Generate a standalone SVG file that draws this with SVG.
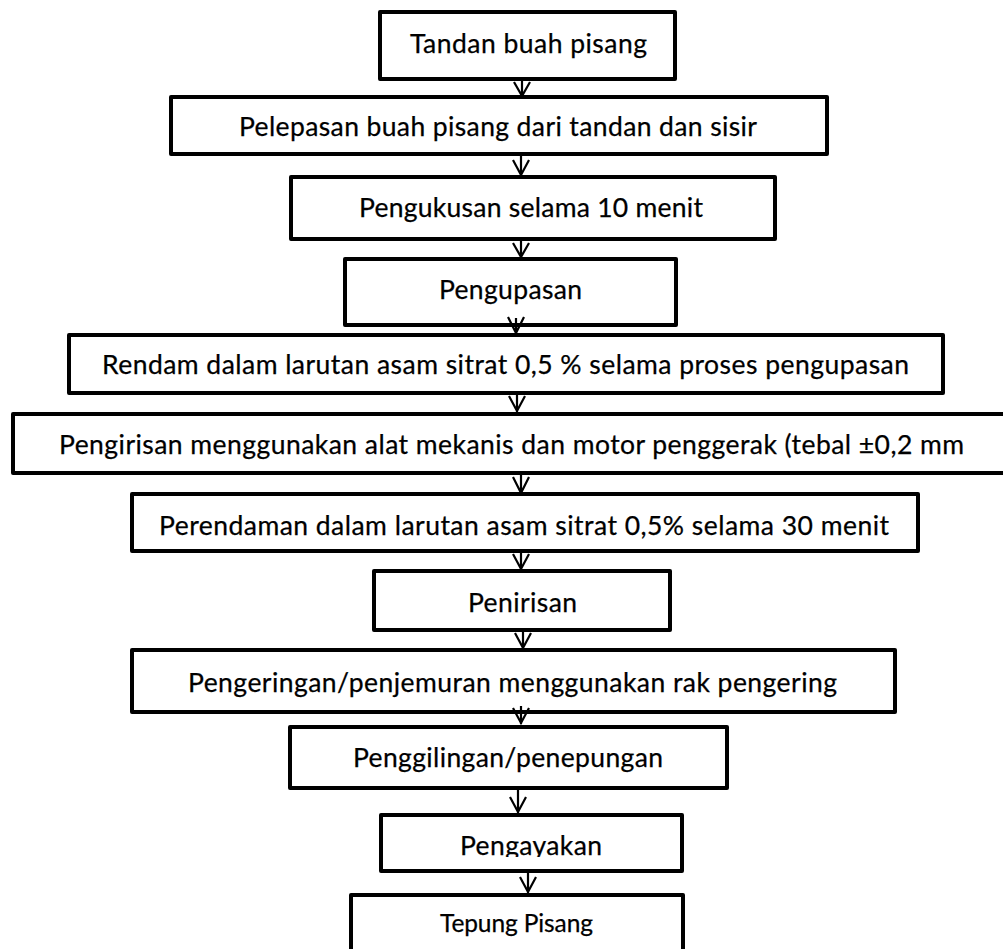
<svg xmlns="http://www.w3.org/2000/svg" width="1003" height="949" viewBox="0 0 1003 949">
<style>
.box{fill:#fff;stroke:#000;stroke-width:4;stroke-linejoin:round}
.t{font-family:Lato,"Open Sans","Liberation Sans",sans-serif;font-size:26.5px;fill:#000;stroke:#000;stroke-width:0.25}
.ts{font-size:24.5px}
.c{fill:none;stroke:#000;stroke-width:2.2}
</style>
<defs>
<clipPath id="clipAyak"><rect x="380" y="815" width="305" height="42"/></clipPath>
</defs>
<rect width="1003" height="949" fill="#fff"/>
<g id="n1"><rect class="box" x="380" y="12" width="295" height="67"/><text class="t" x="410" y="53" textLength="237">Tandan buah pisang</text></g>
<g id="n2"><rect class="box" x="171" y="97" width="656" height="57"/><text class="t" x="239" y="136" textLength="518">Pelepasan buah pisang dari tandan dan sisir</text></g>
<g id="n3"><rect class="box" x="291" y="177" width="484" height="62"/><text class="t" x="359" y="217" textLength="344">Pengukusan selama 10 menit</text></g>
<g id="n4"><rect class="box" x="345" y="259" width="331" height="66"/><text class="t" x="439" y="299" textLength="143">Pengupasan</text></g>
<g id="n5"><rect class="box" x="69" y="335" width="874" height="58"/><text class="t" x="102" y="374" textLength="807">Rendam dalam larutan asam sitrat 0,5 % selama proses pengupasan</text></g>
<g id="n6"><rect class="box" x="13" y="414" width="1000" height="59"/><text class="t" x="59" y="454" textLength="905">Pengirisan menggunakan alat mekanis dan motor penggerak (tebal ±0,2 mm</text></g>
<g id="n7"><rect class="box" x="132" y="494" width="786" height="57"/><text class="t" x="159" y="535" textLength="730">Perendaman dalam larutan asam sitrat 0,5% selama 30 menit</text></g>
<g id="n8"><rect class="box" x="374" y="571" width="296" height="59"/><text class="t" x="468" y="612" textLength="109">Penirisan</text></g>
<g id="n9"><rect class="box" x="132" y="650" width="763" height="62"/><text class="t" x="188" y="692" textLength="649">Pengeringan/penjemuran menggunakan rak pengering</text></g>
<g id="n10"><rect class="box" x="290" y="727" width="437" height="61"/><text class="t" x="353" y="767" textLength="310">Penggilingan/penepungan</text></g>
<g id="n11"><rect class="box" x="381" y="815" width="301" height="56"/><text class="t" x="460" y="855" textLength="142" clip-path="url(#clipAyak)">Pengayakan</text></g>
<g id="n12"><rect class="box" x="351" y="895" width="332" height="70"/><text class="t ts" x="440" y="932" textLength="153">Tepung Pisang</text></g>
<g id="connectors">
<path class="c" d="M522,79V96M514,82L522,96L530,82"/>
<path class="c" d="M521,154V176M513,160L521,175L529,160"/>
<path class="c" d="M521,239V257M513,243L521,257L529,243"/>
<path class="c" d="M516,318V334M508,317L516,333L524,317"/>
<path class="c" d="M517,393V412M509,396L517,411L525,396"/>
<path class="c" d="M521,473V493M513,477L521,493L529,477"/>
<path class="c" d="M521,551V570M513,554L521,569L529,554"/>
<path class="c" d="M523,630V649M515,633L523,648L531,633"/>
<path class="c" d="M521,706V724M513,708L521,723L529,708"/>
<path class="c" d="M518,788V813M510,797L518,812L526,797"/>
<path class="c" d="M528,871V893M520,877L528,892L536,877"/>
</g>
</svg>
